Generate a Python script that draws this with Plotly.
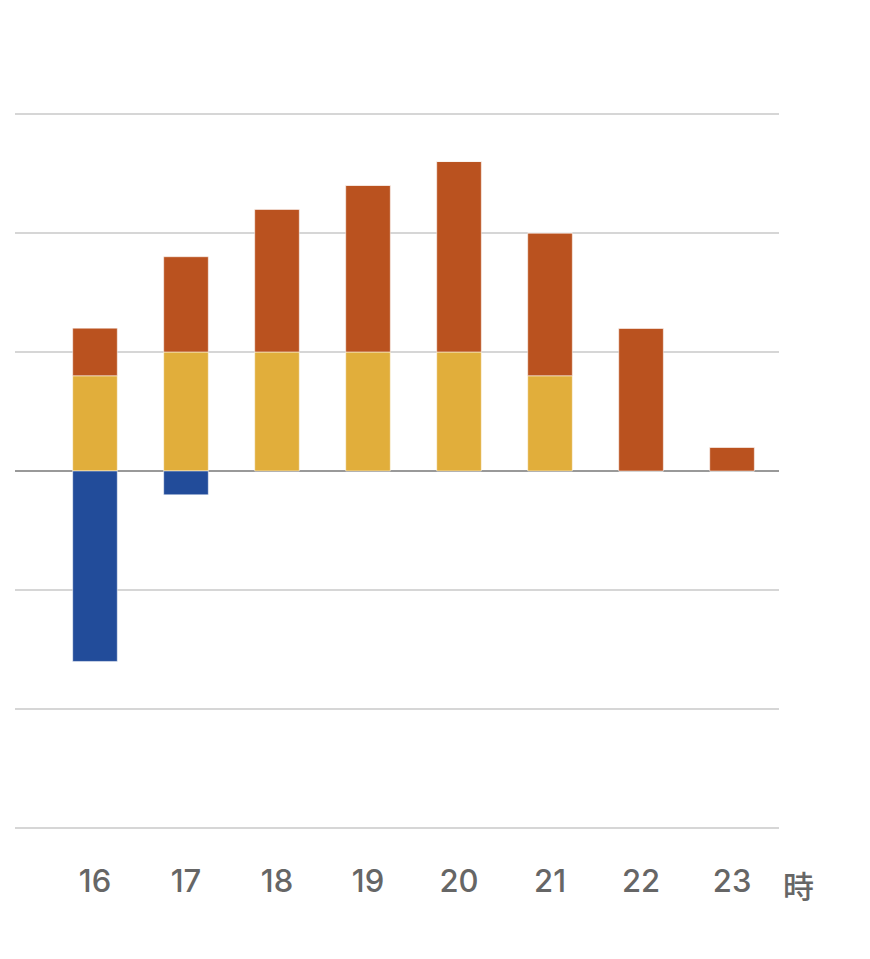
import plotly.graph_objects as go

hours = ['16', '17', '18', '19', '20', '21', '22', '23']
yellow = [0.8, 1.0, 1.0, 1.0, 1.0, 0.8, 0, 0]
orange = [0.4, 0.8, 1.2, 1.4, 1.6, 1.2, 1.2, 0.2]
blue = [-1.6, -0.2, 0, 0, 0, 0, 0, 0]

xs = list(range(len(hours)))

fig = go.Figure()
line = dict(color='rgba(255,255,255,0.5)', width=1)
fig.add_trace(go.Bar(x=xs, y=yellow, marker=dict(color='#E1AE3B', line=line), width=0.49))
fig.add_trace(go.Bar(x=xs, y=orange, marker=dict(color='#BA521F', line=line), width=0.49))
fig.add_trace(go.Bar(x=xs, y=blue, marker=dict(color='#224C9A', line=line), width=0.49))

fig.update_layout(
    barmode='relative',
    width=870, height=959,
    margin=dict(l=7, r=99, t=94, b=127),
    plot_bgcolor='white', paper_bgcolor='white',
    showlegend=False,
    font=dict(family='Inter', color='#666666'),
)
fig.update_xaxes(
    range=[-0.879, 7.516],
    tickvals=xs, ticktext=hours,
    showgrid=False, zeroline=False, showline=False,
    tickfont=dict(size=31, color='#666666', weight=500),
    ticklabelstandoff=20,
)
fig.update_yaxes(
    range=[-3.1, 3.1], dtick=1, tick0=0,
    showticklabels=False,
    gridcolor='#d6d6d6', gridwidth=2,
    zeroline=True, zerolinecolor='#999999', zerolinewidth=2,
)
fig.add_annotation(
    x=1.0486, y=-0.0936, xref='paper', yref='paper',
    text='時', showarrow=False,
    font=dict(family='Noto Sans CJK JP', size=31, color='#666666', weight=500),
)

fig.write_html("out.html")
